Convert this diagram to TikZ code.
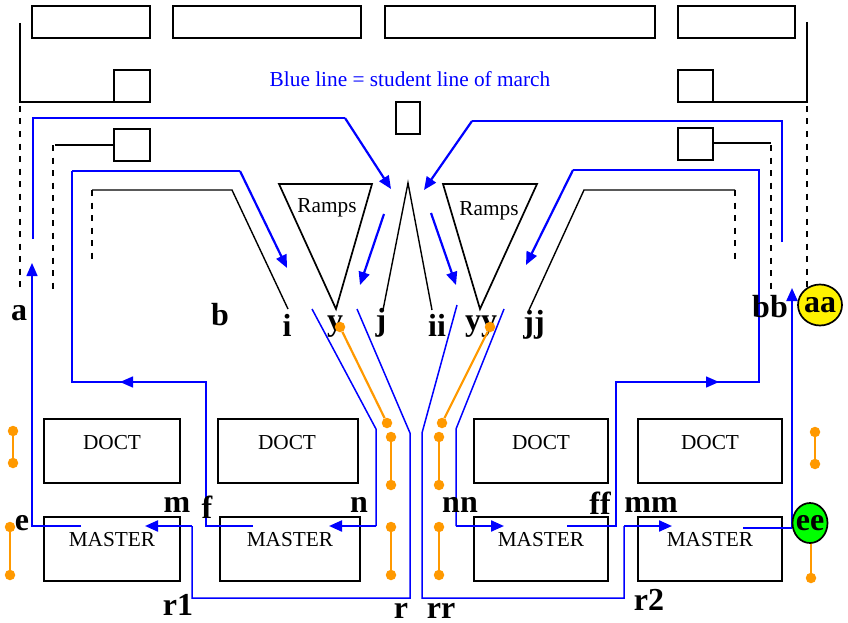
\documentclass[tikz,border=0pt]{standalone}
\usepackage{fontspec}
\setmainfont{Liberation Serif}
\usetikzlibrary{arrows.meta}
\definecolor{bluepath}{RGB}{0,0,255}
\definecolor{orangeline}{RGB}{255,153,0}
\tikzset{
  wall/.style={draw=black,line width=1.7pt,line join=miter},
  wallthin/.style={wall,line width=1.4pt},
  dashwall/.style={draw=black,line width=1.4pt,dash pattern=on 6pt off 6.5pt},
  room/.style={draw=black,line width=1.7pt,fill=none},
  route/.style={draw=bluepath,line width=1.5pt},
  routethick/.style={draw=bluepath,line width=2.2pt},
  tip/.style={-{Triangle[length=13pt,width=11pt]}},
  dot/.style={circle,fill=orangeline,inner sep=0pt,minimum size=10.5pt},
  link/.style={draw=orangeline,line width=2.2pt},
  roomtext/.style={font=\fontsize{21.3}{21.3}\selectfont,inner sep=0pt},
  lab/.style={font=\fontsize{32}{32}\selectfont\bfseries,inner sep=0pt}
}
\begin{document}
\begin{tikzpicture}[x=1pt,y=-1pt]
\useasboundingbox (0,0) rectangle (848,623);
% top rooms
\draw[room] (32,6) rectangle (150,38);
\draw[room] (173,6) rectangle (361,38);
\draw[room] (385,6) rectangle (655,38);
\draw[room] (678,6) rectangle (795,38);
\draw[room] (114,70) rectangle (150,102);
\draw[room] (114,129) rectangle (150,161);
\draw[room] (396,102) rectangle (420,134);
\draw[room] (678,70) rectangle (713,102);
\draw[room] (678,128) rectangle (713,160);
% walls
\draw[wall] (20,23) -- (20,102) -- (114,102);
\draw[dashwall] (20,106) -- (20,293);
\draw[wallthin] (55,145) -- (114,145);
\draw[dashwall] (53,145) -- (53,291);
\draw[wallthin] (92,190) -- (232,190) -- (288,309);
\draw[dashwall] (92,190) -- (92,263);
\draw[wall] (807,22) -- (807,102) -- (713,102);
\draw[dashwall] (807,106) -- (807,288);
\draw[wallthin] (713,143) -- (771,143);
\draw[dashwall] (771,145) -- (771,290);
\draw[wallthin] (735,190) -- (584,190) -- (529,310);
\draw[dashwall] (735,190) -- (735,264);
\draw[wallthin] (383,310) -- (408,183) -- (432,310);
\draw[wall] (279,184) -- (372,184) -- (336,309) -- cycle;
\draw[wall] (443,184) -- (537,184) -- (480,309) -- cycle;
% rooms lower
\draw[room] (44,419) rectangle (180,483);
\draw[room] (218,419) rectangle (358,483);
\draw[room] (474,419) rectangle (608,483);
\draw[room] (638,419) rectangle (782,483);
\draw[room] (44,517) rectangle (180,581);
\draw[room] (220,517) rectangle (360,581);
\draw[room] (474,517) rectangle (608,581);
\draw[room] (638,517) rectangle (782,581);
\node[roomtext] (d1) at (112,443) {DOCT};
\node[roomtext] (d2) at (287,443) {DOCT};
\node[roomtext] (d3) at (541,443) {DOCT};
\node[roomtext] (d4) at (710,443) {DOCT};
\node[roomtext] (m1) at (112,540) {MASTER};
\node[roomtext] (m2) at (290,540) {MASTER};
\node[roomtext] (m3) at (541,540) {MASTER};
\node[roomtext] (m4) at (710,540) {MASTER};
\node[roomtext] (r1t) at (327,208) {Ramps};
\node[roomtext] (r2t) at (489,211) {Ramps};
\node[roomtext,text=bluepath] (legend) at (410,79) {Blue line = student line of march};
% blue routes
\draw[route] (33,239) -- (33,118) -- (345,118);
\draw[routethick,tip] (345,118) -- (391,189);
\draw[route,tip] (81,526) -- (32,526) -- (32,263);
\draw[route] (32,526) -- (32,300);
\draw[route] (72,171) -- (240,171);
\draw[routethick,tip] (240,171) -- (287,268);
\draw[route] (253,526) -- (206,526) -- (206,382) -- (72,382) -- (72,171);
\draw[route,tip] (145,382) -- (120,382);
\draw[routethick,tip] (384,214) -- (360,285);
\draw[routethick,tip] (431,213) -- (456,285);
\draw[route] (782,242) -- (782,121) -- (472,121);
\draw[routethick,tip] (472,121) -- (424,190);
\draw[route] (567,526) -- (616,526) -- (616,382) -- (759,382) -- (759,170) -- (573,170);
\draw[routethick,tip] (573,170) -- (526,265);
\draw[route,tip] (695,382) -- (719,382);
\draw[route] (312,309) -- (376,429) -- (376,526);
\draw[routethick,tip] (376,526) -- (329,526);
\draw[route] (357,309) -- (410,433) -- (410,598) -- (192,598) -- (192,526);
\draw[routethick,tip] (192,526) -- (145,526);
\draw[route] (457,305) -- (422,433) -- (422,598) -- (624,598) -- (624,526);
\draw[routethick,tip] (624,526) -- (672,526);
\draw[route] (504,309) -- (456,429) -- (456,526);
\draw[routethick,tip] (456,526) -- (504,526);
\draw[routethick,tip] (792,528) -- (792,288);
\draw[route] (743,528) -- (792,528);
% labels, over the routes
\node[lab] (la) at (19,313) {a};
\node[lab] (lb) at (220,315) {b};
\node[lab] (li) at (287,325) {i};
\node[lab] (ly) at (335,327) {y};
\node[lab] (lj) at (381,323) {j};
\node[lab] (lii) at (437,325) {ii};
\node[lab] (lyy) at (481,327) {yy};
\node[lab] (ljj) at (534,325) {jj};
\node[lab] (lbb) at (770,307) {bb};
\node[lab] (lm) at (177,505) {m};
\node[lab] (lf) at (207,507) {f};
\node[lab] (ln) at (359,505) {n};
\node[lab] (lr1) at (178,605) {r1};
\node[lab] (lr) at (401,611) {r};
\node[lab] (lrr) at (441,611) {rr};
\node[lab] (lnn) at (460,505) {nn};
\node[lab] (lff) at (600,503) {ff};
\node[lab] (lmm) at (651,505) {mm};
\node[lab] (lr2) at (649,600) {r2};
% orange links
\node[dot] (o1a) at (340,327) {}; \node[dot] (o1b) at (387,423) {};
\draw[link] (o1a) -- (o1b);
\node[dot] (o2a) at (391,437) {}; \node[dot] (o2b) at (391,485) {};
\draw[link] (o2a) -- (o2b);
\node[dot] (o3a) at (391,527) {}; \node[dot] (o3b) at (391,575) {};
\draw[link] (o3a) -- (o3b);
\node[dot] (o4a) at (13,431) {}; \node[dot] (o4b) at (13,463) {};
\draw[link] (o4a) -- (o4b);
\node[dot] (o5a) at (10,527) {}; \node[dot] (o5b) at (10,575) {};
\draw[link] (o5a) -- (o5b);
\node[dot] (o6a) at (490,327) {}; \node[dot] (o6b) at (442,423) {};
\draw[link] (o6a) -- (o6b);
\node[dot] (o7a) at (439,437) {}; \node[dot] (o7b) at (439,485) {};
\draw[link] (o7a) -- (o7b);
\node[dot] (o8a) at (439,527) {}; \node[dot] (o8b) at (439,575) {};
\draw[link] (o8a) -- (o8b);
\node[dot] (o9a) at (815,432) {}; \node[dot] (o9b) at (815,464) {};
\draw[link] (o9a) -- (o9b);
\node[dot] (o10a) at (811,535) {}; \node[dot] (o10b) at (811,578) {};
\draw[link] (o10a) -- (o10b);
\node[lab] (le) at (22,523) {e};
% coloured badges
\path[draw=black,line width=1.7pt,fill=yellow] (820,305) ellipse [x radius=22,y radius=20.5];
\node[lab] (laa) at (820,305) {aa};
\path[draw=black,line width=1.7pt,fill=green] (810,523) ellipse [x radius=17.5,y radius=20];
\node[lab] (lee) at (810,523) {ee};
\end{tikzpicture}
\end{document}
